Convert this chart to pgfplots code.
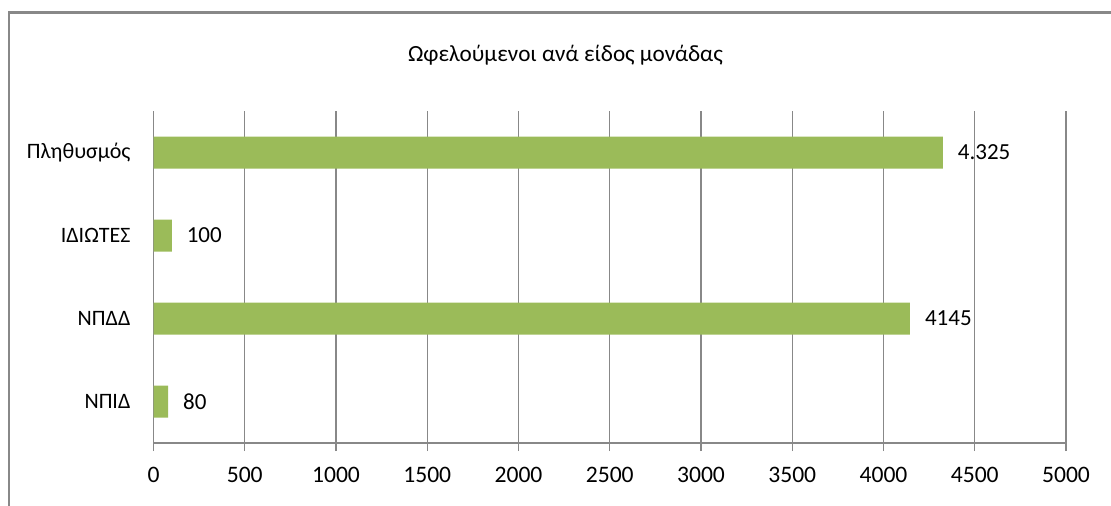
\documentclass[border=0pt]{standalone}
\usepackage{fontspec}
\setmainfont{Carlito}
\usepackage{pgfplots}
\pgfplotsset{compat=1.18}
\definecolor{barc}{HTML}{9BBB59}
\definecolor{gridc}{HTML}{888888}
\begin{document}
\begin{tikzpicture}
\useasboundingbox (-76.75pt,-31pt) rectangle (478.75pt,221.5pt);
\draw[gridc, line width=1.1pt] (-72.25pt,-40pt) -- (-72.25pt,215.25pt) -- (490pt,215.25pt);
\node[font=\fontsize{11.6pt}{13pt}\selectfont] at (206pt,194pt) {Ωφελούμενοι ανά είδος μονάδας};
\begin{axis}[
  at={(0,0)}, anchor=south west,
  scale only axis, width=456.25pt, height=166pt,
  xmin=0, xmax=5000, ymin=-0.5, ymax=3.5,
  axis x line*=bottom, axis y line*=left,
  axis line style={gridc, line width=0.6pt},
  xtick={0,500,...,5000},
  ytick={0,1,2,3},
  yticklabels={ΝΠΙΔ,ΝΠΔΔ,ΙΔΙΩΤΕΣ,Πληθυσμός},
  minor ytick={-0.5,0.5,1.5,2.5,3.5},
  tick align=outside,
  major tick length=4pt,
  minor tick length=3.25pt,
  ytick style={draw=none},
  minor tick style={gridc, line width=0.6pt, draw=gridc},
  xtick style={gridc, line width=0.6pt},
  xmajorgrids,
  major grid style={gridc, line width=0.6pt},
  xticklabel style={font=\fontsize{11.8pt}{13pt}\selectfont, yshift=-4.5pt},
  yticklabel style={font=\fontsize{11pt}{13pt}\selectfont, xshift=-4pt},
  /pgf/number format/assume math mode=true,
  /pgf/number format/1000 sep={},
  clip=false,
]
\addplot[xbar, fill=barc, draw=none, bar width=16pt,
  nodes near coords, point meta=explicit symbolic,
  nodes near coords style={anchor=west, xshift=4pt, font=\fontsize{11.5pt}{13pt}\selectfont, text=black}]
  table[x=x, y=y, meta=label] {
x y label
80 0 80
4145 1 4145
100 2 100
4325 3 4.325
};
\end{axis}
\end{tikzpicture}
\end{document}
